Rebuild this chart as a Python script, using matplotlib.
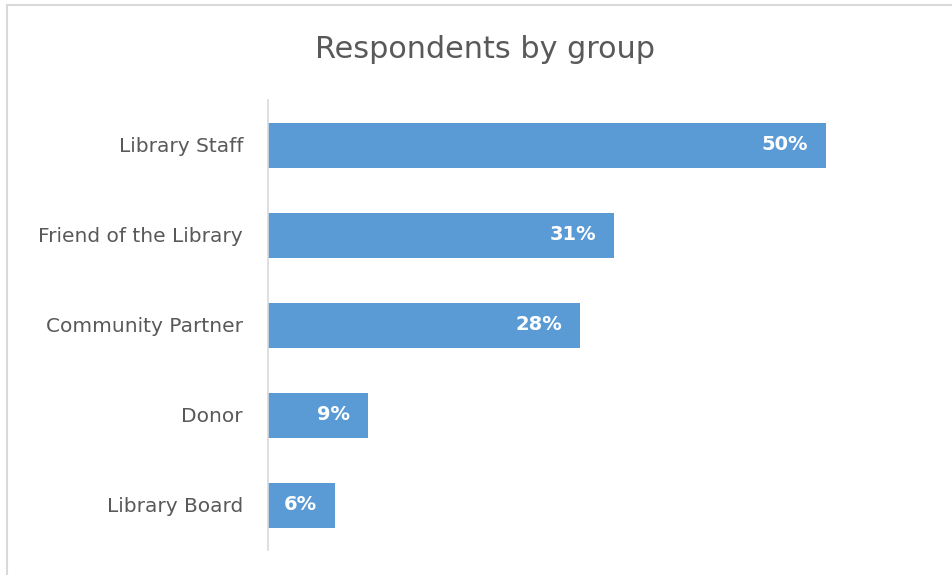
import matplotlib
matplotlib.use("Agg")
import matplotlib.pyplot as plt
from matplotlib.lines import Line2D

# Data
categories = ["Library Staff", "Friend of the Library", "Community Partner", "Donor", "Library Board"]
values = [50, 31, 28, 9, 6]
value_labels = ["50%", "31%", "28%", "9%", "6%"]

BAR_COLOR = "#5B9BD5"
TEXT_COLOR = "#595959"
FONT = ["DejaVu Sans"]

W, H = 952, 575
fig = plt.figure(figsize=(W / 100, H / 100), dpi=100)
fig.patch.set_facecolor("white")

# Axes placed in pixel terms of the reference
left, right, top, bottom = 268, 268 + 60 * 11.16, 100, 550
ax = fig.add_axes([left / W, 1 - bottom / H, (right - left) / W, (bottom - top) / H])

ypos = list(range(len(categories)))
ax.barh(ypos, values, height=0.5, color=BAR_COLOR)
ax.set_ylim(len(categories) - 0.5, -0.5)
ax.set_xlim(0, 60)

for y, v, lab in zip(ypos, values, value_labels):
    ax.annotate(lab, xy=(v, y), xytext=(-13, 0), textcoords="offset points",
                ha="right", va="center", color="white", fontsize=14,
                fontweight="bold", family=FONT)

ax.set_yticks(ypos)
ax.set_yticklabels(categories, family=FONT, fontsize=14.5, color=TEXT_COLOR)
ax.tick_params(axis="y", length=0, pad=18)
ax.set_xticks([])
for side in ["top", "right", "bottom"]:
    ax.spines[side].set_visible(False)
ax.spines["left"].set_color("#D9D9D9")
ax.spines["left"].set_linewidth(1.2)

fig.text(485 / W, 1 - 49 / H, "Respondents by group", ha="center", va="center",
         fontsize=21.8, color=TEXT_COLOR, family=FONT)

# Chart frame (top and left edges visible)
fig.add_artist(Line2D([7 / W, 1], [1 - 5 / H, 1 - 5 / H], color="#D9D9D9", lw=1.5,
                      transform=fig.transFigure))
fig.add_artist(Line2D([7 / W, 7 / W], [0, 1 - 5 / H], color="#D9D9D9", lw=1.5,
                      transform=fig.transFigure))

fig.savefig("out.png", dpi=100)
